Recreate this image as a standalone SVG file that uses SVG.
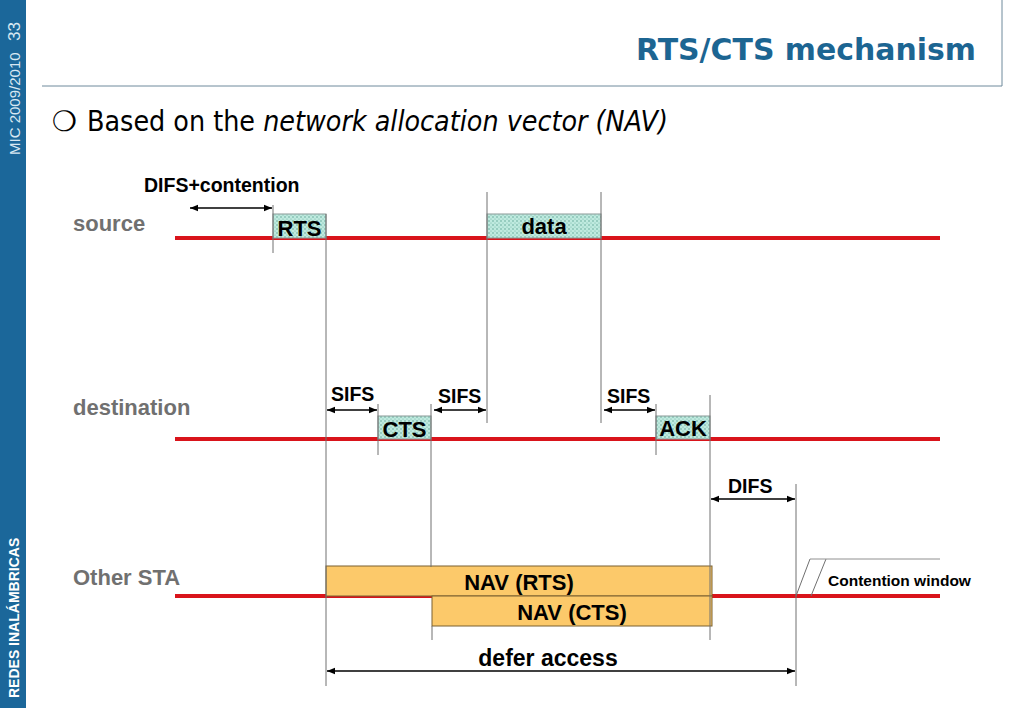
<svg xmlns="http://www.w3.org/2000/svg" width="1023" height="708" viewBox="0 0 1023 708">
<defs>
<pattern id="dots" width="4" height="4" patternUnits="userSpaceOnUse">
<rect width="4" height="4" fill="#bfeadf"/>
<circle cx="1" cy="1" r="0.7" fill="#4f9a8a"/>
<circle cx="3" cy="3" r="0.6" fill="#6fb3a3"/>
</pattern>
<marker id="ah" viewBox="0 0 10 10" refX="10" refY="5" markerWidth="8" markerHeight="8" markerUnits="userSpaceOnUse" orient="auto-start-reverse">
<path d="M0,1 L10,5 L0,9 Z" fill="#000"/>
</marker>
</defs>
<style>
.lbl{font-family:"Liberation Sans",Arial,sans-serif;font-weight:bold;fill:#000}
.side{font-family:"Liberation Sans",Arial,sans-serif;font-weight:bold;fill:#707070;font-size:22px}
.red{stroke:#d9141b;stroke-width:4}
.vl{stroke:#707070;stroke-width:1}
.arr{stroke:#000;stroke-width:1.5;marker-start:url(#ah);marker-end:url(#ah)}
.pkt{fill:url(#dots);stroke:#8a9a98;stroke-width:1}
.nav{fill:#fcc96a;stroke:#7a6030;stroke-width:1}
</style>
<rect width="1023" height="708" fill="#fff"/>
<!-- left bar -->
<rect x="0" y="0" width="26" height="708" fill="#1b679a"/>
<text transform="translate(20,155) rotate(-90)" font-family="'Liberation Sans',Arial,sans-serif" font-size="15" fill="#d8e8f2">MIC 2009/2010</text>
<text transform="translate(20,41) rotate(-90)" font-family="'Liberation Sans',Arial,sans-serif" font-size="17" fill="#d8e8f2">33</text>
<text transform="translate(19,698) rotate(-90)" font-family="'Liberation Sans',Arial,sans-serif" font-size="14" font-weight="bold" fill="#ffffff">REDES INALÁMBRICAS</text>
<!-- header -->
<line x1="42" y1="86" x2="1002" y2="86" stroke="#6f8a9c" stroke-width="1"/>
<line x1="1002" y1="0" x2="1002" y2="86" stroke="#6f8a9c" stroke-width="1"/>
<text x="976" y="60" text-anchor="end" font-family="'DejaVu Sans',Verdana,sans-serif" font-weight="bold" font-size="30" fill="#1c6592" textLength="340" lengthAdjust="spacingAndGlyphs">RTS/CTS mechanism</text>
<text x="52" y="131" font-family="'DejaVu Sans',sans-serif" font-size="28" fill="#000">❍</text>
<text x="87" y="131" font-family="'DejaVu Sans Condensed','DejaVu Sans',sans-serif" font-size="28.4" fill="#000" textLength="581" lengthAdjust="spacingAndGlyphs">Based on the <tspan font-style="italic">network allocation vector (NAV)</tspan></text>
<!-- side labels -->
<text class="side" x="73" y="231">source</text>
<text class="side" x="73" y="415">destination</text>
<text class="side" x="73" y="585">Other STA</text>
<!-- timelines -->
<g id="timelines">
<line class="red" x1="175" y1="238" x2="940" y2="238"/>
<line class="red" x1="175" y1="439" x2="940" y2="439"/>
<line class="red" x1="175" y1="596" x2="940" y2="596"/>
</g>
<!-- NAV -->
<g id="nav-rts">
<rect class="nav" x="326" y="566" width="386" height="30"/>
<text class="lbl" x="519" y="590" font-size="22" text-anchor="middle">NAV (RTS)</text>
</g>
<g id="nav-cts">
<rect class="nav" x="432" y="596" width="280" height="30"/>
<text class="lbl" x="572" y="620" font-size="22" text-anchor="middle">NAV (CTS)</text>
</g>
<!-- packets -->
<g id="rts">
<rect class="pkt" x="273" y="214" width="53" height="24"/>
<text class="lbl" x="299.5" y="236" font-size="22" text-anchor="middle">RTS</text>
</g>
<g id="data">
<rect class="pkt" x="487" y="214" width="114" height="24"/>
<text class="lbl" x="544" y="234" font-size="22" text-anchor="middle">data</text>
</g>
<g id="cts">
<rect class="pkt" x="378" y="416" width="53" height="23"/>
<text class="lbl" x="404.5" y="437" font-size="22" text-anchor="middle">CTS</text>
</g>
<g id="ack">
<rect class="pkt" x="656" y="416" width="54" height="23"/>
<text class="lbl" x="683" y="436" font-size="22" text-anchor="middle">ACK</text>
</g>
<!-- connectors -->
<g id="connectors">
<line class="vl" x1="273" y1="205" x2="273" y2="253"/>
<line class="vl" x1="326" y1="214" x2="326" y2="686"/>
<line class="vl" x1="487" y1="192" x2="487" y2="423"/>
<line class="vl" x1="601" y1="192" x2="601" y2="423"/>
<line class="vl" x1="378" y1="404" x2="378" y2="455"/>
<line class="vl" x1="431" y1="404" x2="431" y2="567"/>
<line class="vl" x1="432" y1="626" x2="432" y2="640"/>
<line class="vl" x1="656" y1="404" x2="656" y2="455"/>
<line class="vl" x1="710" y1="395" x2="710" y2="640"/>
<line class="vl" x1="796" y1="484" x2="796" y2="686"/>
<line class="arr" x1="190" y1="208" x2="272" y2="208"/>
<line class="arr" x1="327" y1="410" x2="377" y2="410"/>
<line class="arr" x1="434" y1="410" x2="486" y2="410"/>
<line class="arr" x1="604" y1="410" x2="655" y2="410"/>
<line class="arr" x1="711" y1="499" x2="795" y2="499"/>
<line class="arr" x1="327" y1="671" x2="795" y2="671"/>
<line x1="796" y1="596" x2="810" y2="559" stroke="#707070" stroke-width="1"/>
<line x1="811" y1="596" x2="826" y2="559" stroke="#707070" stroke-width="1"/>
<line x1="810" y1="559" x2="940" y2="559" stroke="#909090" stroke-width="1"/>
</g>
<!-- texts -->
<text class="lbl" x="144" y="192" font-size="19.5">DIFS+contention</text>
<text class="lbl" x="331" y="401" font-size="19.5">SIFS</text>
<text class="lbl" x="438" y="403" font-size="19.5">SIFS</text>
<text class="lbl" x="607" y="403" font-size="19.5">SIFS</text>
<text class="lbl" x="728" y="493" font-size="19.5">DIFS</text>
<text class="lbl" x="548" y="666" font-size="23" text-anchor="middle">defer access</text>
<text class="lbl" x="828" y="586" font-size="15.5">Contention window</text>
</svg>
